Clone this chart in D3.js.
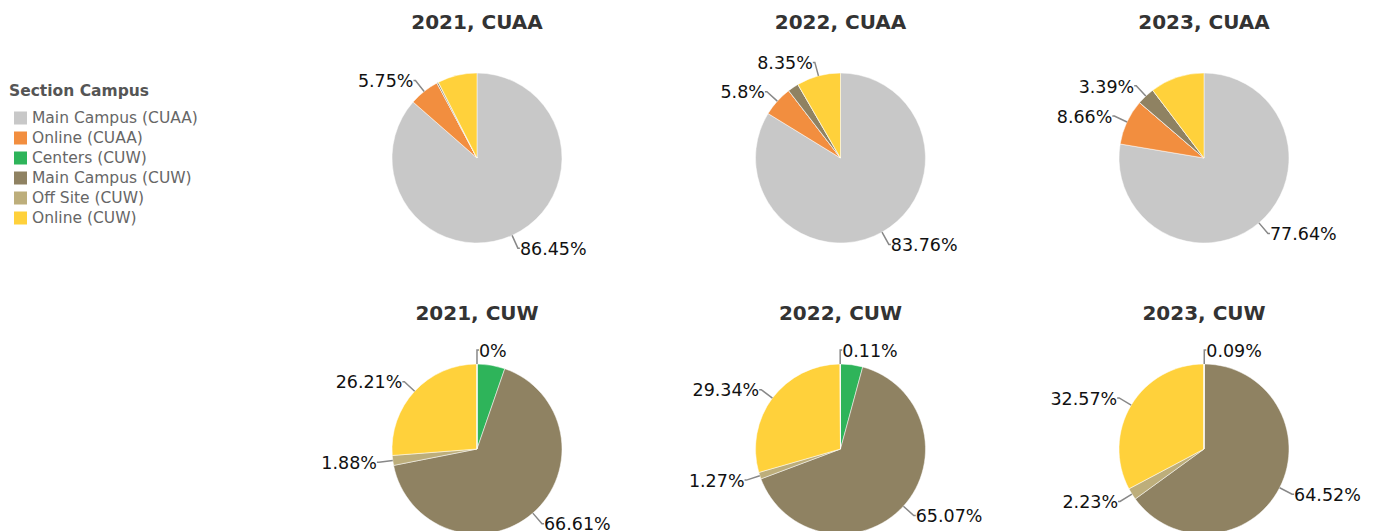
<!DOCTYPE html>
<html>
<head>
<meta charset="utf-8">
<script src="https://cdn.jsdelivr.net/npm/d3@7"></script>
<style>
  body { margin: 0; background: #fff; }
  svg { display: block; font-family: "DejaVu Sans", sans-serif; }
</style>
</head>
<body>
<script>
// categories in legend order
var categories = ["Main Campus (CUAA)", "Online (CUAA)", "Centers (CUW)", "Main Campus (CUW)", "Off Site (CUW)", "Online (CUW)"];
var colors = ["#c8c8c8", "#f28e3f", "#2eb45a", "#8f8262", "#bdae7b", "#ffd13b"];
var years = ["2021", "2022", "2023"];
var schools = ["CUAA", "CUW"];

// percent of sections, legend order
var cuaa2021 = [86.45, 5.75, 0, 0.3, 0, 7.5];
var cuaa2022 = [83.76, 5.8, 0, 2.09, 0, 8.35];
var cuaa2023 = [77.64, 8.66, 0, 3.39, 0, 10.31];
var cuw2021 = [0, 0.004, 5.3, 66.61, 1.88, 26.21];
var cuw2022 = [0, 0.11, 4.21, 65.07, 1.27, 29.34];
var cuw2023 = [0, 0, 0.09, 64.52, 2.23, 32.57];

// slice order clockwise from 12 o'clock
var cuaaOrder = [0, 1, 2, 3, 4, 5];
var cuwOrder = [2, 3, 4, 5, 1, 0];

// which slices carry a label
var cuaa2021Labels = [0, 1];
var cuaa2022Labels = [0, 1, 5];
var cuaa2023Labels = [0, 1, 3];
var cuw2021Labels = [1, 3, 4, 5];
var cuw2022Labels = [1, 3, 4, 5];
var cuw2023Labels = [2, 3, 4, 5];

var panels = [
  {year: "2021", school: "CUAA", values: cuaa2021, order: cuaaOrder, labels: cuaa2021Labels},
  {year: "2022", school: "CUAA", values: cuaa2022, order: cuaaOrder, labels: cuaa2022Labels},
  {year: "2023", school: "CUAA", values: cuaa2023, order: cuaaOrder, labels: cuaa2023Labels},
  {year: "2021", school: "CUW", values: cuw2021, order: cuwOrder, labels: cuw2021Labels},
  {year: "2022", school: "CUW", values: cuw2022, order: cuwOrder, labels: cuw2022Labels},
  {year: "2023", school: "CUW", values: cuw2023, order: cuwOrder, labels: cuw2023Labels}
];

var width = 1377, height = 531;
var radius = 85;

var x = d3.scalePoint().domain(years).range([477, 1204]);
var y = d3.scalePoint().domain(schools).range([158, 449]);

var svg = d3.select("body").append("svg")
    .attr("width", width)
    .attr("height", height);

// legend
var legend = svg.append("g").attr("transform", "translate(9,0)");
legend.append("text")
    .attr("x", 0).attr("y", 96)
    .attr("font-size", 15.5).attr("font-weight", "bold")
    .attr("fill", "#555")
    .text("Section Campus");
var item = legend.selectAll("g.item")
  .data(categories)
  .enter().append("g")
    .attr("class", "item")
    .attr("transform", (d, i) => `translate(0,${118 + i * 20})`);
item.append("rect")
    .attr("x", 5).attr("y", -6.5)
    .attr("width", 13).attr("height", 13)
    .attr("fill", (d, i) => colors[i]);
item.append("text")
    .attr("x", 23).attr("dy", "0.35em")
    .attr("font-size", 15.5)
    .attr("fill", "#666")
    .text(d => d);

var pie = d3.pie().sort(null).value(d => d.value);
var arc = d3.arc().innerRadius(0).outerRadius(radius);
var fmt = v => (+v.toFixed(2)) + "%";

panels.forEach(function (p) {
  var cx = x(p.year), cy = y(p.school);
  var g = svg.append("g").attr("transform", `translate(${cx},${cy})`);

  g.append("text")
      .attr("y", -129)
      .attr("text-anchor", "middle")
      .attr("font-size", 20).attr("font-weight", "bold")
      .attr("fill", "#333")
      .text(p.year + ", " + p.school);

  var slices = pie(p.order.map(i => ({cat: i, value: p.values[i]})));

  g.selectAll("path")
    .data(slices)
    .enter().append("path")
      .attr("d", arc)
      .attr("fill", d => colors[d.data.cat])
      .attr("stroke", "#fff")
      .attr("stroke-width", 0.5);

  var labeled = slices.filter(d => p.labels.indexOf(d.data.cat) >= 0);
  labeled.forEach(function (d) {
    var a = (d.startAngle + d.endAngle) / 2;
    var sx = Math.sin(a), sy = -Math.cos(a);
    var x0 = sx * radius, y0 = sy * radius;
    var x1 = sx * (radius + 14), y1 = sy * (radius + 14);
    var right = sx >= -0.05;
    g.append("polyline")
        .attr("points", `${x0},${y0} ${x1},${y1} ${x1 + (right ? 2 : -2)},${y1}`)
        .attr("fill", "none")
        .attr("stroke", "#888")
        .attr("stroke-width", 1.5);
    g.append("text")
        .attr("x", x1 + (right ? 2 : -2))
        .attr("y", y1)
        .attr("dy", "0.38em")
        .attr("text-anchor", right ? "start" : "end")
        .attr("font-size", 17.5)
        .attr("fill", "#111")
        .text(fmt(d.data.value));
  });
});
</script>
</body>
</html>
